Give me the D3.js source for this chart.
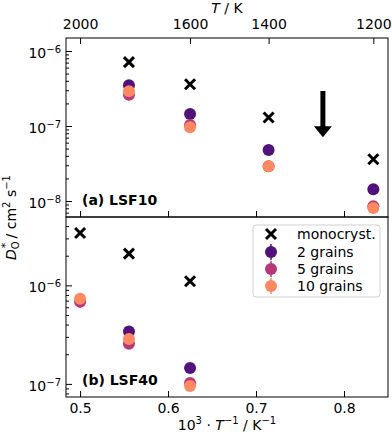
<!DOCTYPE html>
<html>
<head>
<meta charset="utf-8">
<script src="https://cdn.jsdelivr.net/npm/d3@7"></script>
<style>
  body { margin: 0; background: #fff; }
  svg { font-family: "DejaVu Sans", sans-serif; }
</style>
</head>
<body>
<script>
// temperatures (K) of the simulations
var temps = [2000, 1800, 1600, 1400, 1200];
var topTicksT = [2000, 1600, 1400, 1200];
var bottomTicks = [0.5, 0.6, 0.7, 0.8];

// (a) LSF10, D_O* in cm^2/s
var mono10 = [null, 7.1e-7, 3.6e-7, 1.3e-7, 3.6e-8];
var grains2_10 = [null, 3.5e-7, 1.45e-7, 4.8e-8, 1.43e-8];
var grains5_10 = [null, 2.6e-7, 1.03e-7, 2.9e-8, 8.5e-9];
var grains10_10 = [null, 2.9e-7, 9.6e-8, 2.9e-8, 8.1e-9];

// (b) LSF40
var mono40 = [3.4e-6, 2.1e-6, 1.1e-6, null, null];
var grains2_40 = [null, 3.4e-7, 1.45e-7, null, null];
var grains5_40 = [6.8e-7, 2.55e-7, 1.02e-7, null, null];
var grains10_40 = [7.3e-7, 2.86e-7, 9.5e-8, null, null];

var seriesNames = ["monocryst.", "2 grains", "5 grains", "10 grains"];
var colors = ["#000000", "#51127c", "#b73779", "#fc8961"];

// arrow annotation in panel (a): x in 1000/T, y in D
var arrowX = 0.776, arrowFrom = 2.93e-7, arrowTo = 7.1e-8;

var W = 392, H = 437;
var left = 66, right = 388, top1 = 38, mid = 217, bot2 = 397;

var svg = d3.select("body").append("svg")
    .attr("width", W)
    .attr("height", H);

var x = d3.scaleLinear().domain([0.484, 0.85]).range([left, right]);
var yA = d3.scaleLog().domain([Math.pow(10, -8.213), Math.pow(10, -5.827)]).range([mid, top1]);
var yB = d3.scaleLog().domain([Math.pow(10, -7.133), Math.pow(10, -5.306)]).range([bot2, mid]);

var invT = temps.map(function (t) { return 1000 / t; });

function supLabel(sel) {
    // turn "10^-n" into 10 + superscript
    sel.each(function (d) {
        var t = d3.select(this);
        var e = Math.round(Math.log10(d));
        t.text(null);
        t.append("tspan").text("10");
        t.append("tspan").attr("dy", "-0.5em").attr("font-size", "10px").text("\u2212" + Math.abs(e));
    });
}

function yAxes(y, y0, y1, majors) {
    var minors = y.ticks().filter(function (v) {
        var l = Math.log10(v);
        return Math.abs(l - Math.round(l)) > 1e-6;
    });
    svg.append("g")
        .attr("transform", "translate(" + left + ",0)")
        .call(d3.axisLeft(y).tickValues(minors).tickSize(-3).tickFormat(""))
        .call(function (g) { g.select(".domain").remove(); });
    var ga = svg.append("g")
        .attr("transform", "translate(" + left + ",0)")
        .call(d3.axisLeft(y).tickValues(majors).tickSize(-6).tickPadding(5))
        .call(function (g) { g.select(".domain").remove(); });
    ga.selectAll("text")
        .attr("font-size", "14px")
        .attr("font-family", "DejaVu Sans")
        .attr("fill", "#000")
        .attr("dy", "0.45em")
        .call(supLabel);
}

function panel(y, y0, y1, mono, g2, g5, g10, label, clipId) {
    svg.append("clipPath").attr("id", clipId)
        .append("rect").attr("x", left).attr("y", y0).attr("width", right - left).attr("height", y1 - y0);
    var g = svg.append("g").attr("clip-path", "url(#" + clipId + ")");

    var groups = [g2, g5, g10];
    groups.forEach(function (vals, k) {
        g.selectAll(".c" + k)
            .data(vals.map(function (v, i) { return { x: invT[i], y: v }; }).filter(function (d) { return d.y != null; }))
            .enter().append("circle")
            .attr("cx", function (d) { return x(d.x); })
            .attr("cy", function (d) { return y(d.y); })
            .attr("r", 6)
            .attr("fill", colors[k + 1]);
    });

    var m = mono.map(function (v, i) { return { x: invT[i], y: v }; }).filter(function (d) { return d.y != null; });
    g.selectAll(".mono")
        .data(m)
        .enter().append("path")
        .attr("d", function (d) {
            var cx = x(d.x), cy = y(d.y), s = 5;
            return "M" + (cx - s) + "," + (cy - s) + "L" + (cx + s) + "," + (cy + s) +
                "M" + (cx - s) + "," + (cy + s) + "L" + (cx + s) + "," + (cy - s);
        })
        .attr("stroke", "#000")
        .attr("stroke-width", 3)
        .attr("fill", "none");

    svg.append("text")
        .attr("x", 82)
        .attr("y", y1 - 12)
        .attr("font-size", "14px")
        .attr("font-weight", "bold")
        .text(label);
}

panel(yA, top1, mid, mono10, grains2_10, grains5_10, grains10_10, "(a) LSF10", "clipA");
panel(yB, mid, bot2, mono40, grains2_40, grains5_40, grains10_40, "(b) LSF40", "clipB");

// arrow
var ax = x(arrowX), ay0 = yA(arrowFrom), ay1 = yA(arrowTo);
svg.append("rect")
    .attr("x", ax - 2.5).attr("y", ay0)
    .attr("width", 5).attr("height", ay1 - ay0 - 9)
    .attr("fill", "#000");
svg.append("path")
    .attr("d", "M" + (ax - 9) + "," + (ay1 - 11) + "L" + (ax + 9) + "," + (ay1 - 11) + "L" + ax + "," + ay1 + "Z")
    .attr("fill", "#000");

// y axes
yAxes(yA, top1, mid, [1e-8, 1e-7, 1e-6]);
yAxes(yB, mid, bot2, [1e-7, 1e-6]);

// bottom axis of panel (b)
var xb = svg.append("g")
    .attr("transform", "translate(0," + bot2 + ")")
    .call(d3.axisBottom(x).tickValues(bottomTicks).tickSize(-6).tickPadding(6).tickFormat(d3.format(".1f")));
xb.select(".domain").remove();
xb.selectAll("text").attr("font-size", "14px").attr("font-family", "DejaVu Sans");

// bottom ticks of panel (a)
svg.append("g")
    .attr("transform", "translate(0," + mid + ")")
    .call(d3.axisBottom(x).tickValues(bottomTicks).tickSize(-6).tickFormat(""))
    .call(function (g) { g.select(".domain").remove(); });

// top axis in temperature
var xt = svg.append("g")
    .attr("transform", "translate(0," + top1 + ")")
    .call(d3.axisTop(x).tickValues(topTicksT.map(function (t) { return 1000 / t; }))
        .tickSize(-6).tickPadding(9)
        .tickFormat(function (d) { return Math.round(1000 / d); }));
xt.select(".domain").remove();
xt.selectAll("text").attr("font-size", "14px").attr("font-family", "DejaVu Sans");

// frames
[[top1, mid], [mid, bot2]].forEach(function (p) {
    svg.append("rect")
        .attr("x", left).attr("y", p[0])
        .attr("width", right - left).attr("height", p[1] - p[0])
        .attr("fill", "none").attr("stroke", "#000").attr("stroke-width", 1);
});

// legend
var lg = svg.append("g").attr("transform", "translate(253,225)");
lg.append("rect")
    .attr("width", 127).attr("height", 72).attr("rx", 3)
    .attr("fill", "#fff").attr("fill-opacity", 0.8)
    .attr("stroke", "#d0d0d0");
var rowsY = [9, 27, 44, 61];
seriesNames.forEach(function (name, i) {
    var row = lg.append("g").attr("transform", "translate(18," + rowsY[i] + ")");
    if (i === 0) {
        row.append("path")
            .attr("d", "M-5,-5L5,5M-5,5L5,-5")
            .attr("stroke", "#000").attr("stroke-width", 3);
    } else {
        row.append("line").attr("y1", -8).attr("y2", 8)
            .attr("stroke", colors[i]).attr("stroke-width", 1.5);
        row.append("circle").attr("r", 6).attr("fill", colors[i]);
    }
    row.append("text")
        .attr("x", 26).attr("y", 5)
        .attr("font-size", "14px")
        .text(name);
});

// axis titles
var tt = svg.append("text")
    .attr("x", 227).attr("y", 13)
    .attr("text-anchor", "middle")
    .attr("font-size", "14px");
tt.append("tspan").attr("font-style", "italic").text("T");
tt.append("tspan").text(" / K");

var xl = svg.append("text")
    .attr("x", 227).attr("y", 430)
    .attr("text-anchor", "middle")
    .attr("font-size", "14px");
xl.append("tspan").text("10");
xl.append("tspan").attr("dy", -6).attr("font-size", "10px").text("3");
xl.append("tspan").attr("dy", 6).text(" \u00b7 ");
xl.append("tspan").attr("font-style", "italic").text("T");
xl.append("tspan").attr("dy", -6).attr("font-size", "10px").text("\u22121");
xl.append("tspan").attr("dy", 6).text(" / K");
xl.append("tspan").attr("dy", -6).attr("font-size", "10px").text("\u22121");

var yl = svg.append("text")
    .attr("transform", "translate(16," + ((top1 + bot2) / 2) + ") rotate(-90)")
    .attr("text-anchor", "middle")
    .attr("font-size", "14px");
yl.append("tspan").attr("font-style", "italic").text("D");
yl.append("tspan").attr("dy", 3).attr("font-size", "10px").text("O");
yl.append("tspan").attr("dx", -7).attr("dy", -10).attr("font-size", "11px").text("*");
yl.append("tspan").attr("dy", 7).text(" / cm");
yl.append("tspan").attr("dy", -6).attr("font-size", "10px").text("2");
yl.append("tspan").attr("dy", 6).text(" s");
yl.append("tspan").attr("dy", -6).attr("font-size", "10px").text("\u22121");
</script>
</body>
</html>
